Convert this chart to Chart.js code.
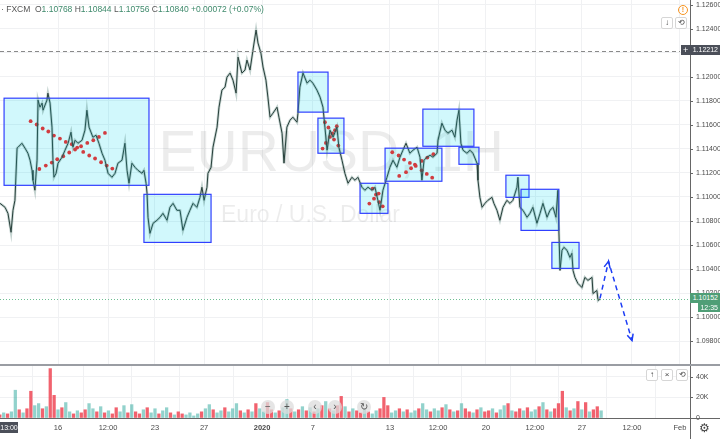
<!DOCTYPE html>
<html>
<head>
<meta charset="utf-8">
<script src="https://cdn.jsdelivr.net/npm/chart.js@4.4.1/dist/chart.umd.min.js"></script>
<style>
  body { margin: 0; background: #fff; font-family: "Liberation Sans", Arial, sans-serif; }
  #wrap { position: relative; width: 720px; height: 439px; overflow: hidden; }
  canvas { position: absolute; left: 0; }
  #price { top: 0; }
  #vol { top: 365px; }
  .ov { position: absolute; white-space: nowrap; }
  .line { position: absolute; }
  .tag { position: absolute; color: #fff; font-size: 7px; line-height: 10px; text-align: right; padding-right: 2px; box-sizing: border-box; }
  .btn { position: absolute; width: 10px; height: 10px; border: 1px solid #d6d6d6; border-radius: 2px; background: #fff;
         font-size: 8px; line-height: 10px; text-align: center; color: #444; }
  .nav { position: absolute; width: 14px; height: 14px; border-radius: 50%; background: rgba(220,220,220,0.75);
         font-size: 10px; line-height: 14px; text-align: center; color: #555; }
  #hdr { left: 1px; top: 4px; font-size: 8.5px; line-height: 10px; color: #555; }
  #hdr .v { color: #3f8a6c; }
</style>
</head>
<body>
<div id="wrap">
  <canvas id="price" width="720" height="365"></canvas>
  <canvas id="vol" width="720" height="74"></canvas>

  <div class="line" style="left:0;top:364px;width:720px;height:2px;background:#9a9da3"></div>
  <div class="line" style="left:690px;top:418px;width:30px;height:1px;background:#666"></div>
  <div class="line" style="left:690px;top:418px;width:1px;height:21px;background:#666"></div>

  <div id="hdr" class="ov">· FXCM&nbsp; O<span class="v">1.10768</span> H<span class="v">1.10844</span> L<span class="v">1.10756</span> C<span class="v">1.10840</span> <span class="v">+0.00072 (+0.07%)</span></div>

  <div class="ov" style="left:678px;top:5px;width:8px;height:8px;border:1px solid #f7931e;border-radius:50%;color:#f7931e;font-size:7px;line-height:8px;text-align:center;font-weight:bold">!</div>
  <div class="btn" style="left:661px;top:17px">↓</div>
  <div class="btn" style="left:675px;top:17px">⟲</div>

  <div class="tag" style="left:681px;top:45px;width:39px;background:#4b4f59"><span style="position:absolute;left:2px;font-size:9px">+</span>1.12212</div>
  <div class="tag" style="left:690px;top:293px;width:30px;background:#4f9e76">1.10152</div>
  <div class="tag" style="left:698px;top:303px;width:22px;height:9px;line-height:9px;background:#4f9e76">12:35</div>

  <div class="btn" style="left:646px;top:369px">↑</div>
  <div class="btn" style="left:661px;top:369px">×</div>
  <div class="btn" style="left:676px;top:369px">⟲</div>

  <div class="nav" style="left:261px;top:400px">−</div>
  <div class="nav" style="left:280px;top:400px">+</div>
  <div class="nav" style="left:308px;top:400px">‹</div>
  <div class="nav" style="left:328px;top:400px">›</div>
  <div class="nav" style="left:357px;top:400px">↻</div>

  <div class="tag" style="left:0;top:422px;width:18px;height:11px;line-height:11px;background:#4b4f59;text-align:center;padding:0">13:00</div>
  <div class="ov" style="left:699px;top:421px;font-size:12px;color:#444">⚙</div>
</div>

<script>
// time axis in trading days, 0 = Dec 16
const tickDays = [0, 2.58, 5.0, 7.53, 10.52, 13.14, 17.11, 19.59, 22.06, 24.59, 27.01, 29.59, 32.06]
const tickLabels = ['16', '12:00', '23', '27', '2020', '7', '13', '12:00', '20', '12:00', '27', '12:00', 'Feb']

const priceDays = [
  -2.99, -2.73, -2.58, -2.42, -2.32, -2.22, -2.11, -2.06, -1.86, -1.70,
  -1.55, -1.44, -1.34, -1.29, -1.19, -1.08, -1.03, -0.93, -0.82, -0.77,
  -0.57, -0.52, -0.41, -0.31, -0.26, -0.21, -0.10, 0, 0.21, 0.36,
  0.52, 0.67, 0.77, 0.88, 1.03, 1.24, 1.39, 1.49, 1.60, 1.80,
  1.96, 2.11, 2.27, 2.42, 2.58, 2.78, 2.94, 3.09, 3.30, 3.45,
  3.56, 3.66, 3.81, 3.97, 4.12, 4.33, 4.43, 4.54, 4.59, 4.64,
  4.74, 4.90, 5.10, 5.26, 5.41, 5.62, 5.77, 5.93, 6.13, 6.29,
  6.44, 6.65, 6.80, 6.96, 7.16, 7.32, 7.42, 7.53, 7.68, 7.73,
  7.89, 7.99, 8.20, 8.30, 8.45, 8.61, 8.71, 8.87, 9.02, 9.18,
  9.28, 9.48, 9.64, 9.74, 9.90, 10.05, 10.21, 10.31, 10.46, 10.57,
  10.72, 10.82, 10.93, 11.08, 11.29, 11.39, 11.55, 11.65, 11.80, 11.96,
  12.11, 12.32, 12.37, 12.47, 12.63, 12.84, 12.99, 13.14, 13.35, 13.51,
  13.66, 13.76, 13.87, 14.02, 14.18, 14.38, 14.48, 14.64, 14.79, 14.95,
  15.15, 15.31, 15.46, 15.67, 15.82, 15.98, 16.19, 16.34, 16.49, 16.60,
  16.75, 16.96, 17.11, 17.27, 17.47, 17.63, 17.78, 17.94, 18.14, 18.30,
  18.51, 18.66, 18.76, 18.87, 19.02, 19.18, 19.33, 19.54, 19.59, 19.79,
  19.95, 20.10, 20.31, 20.46, 20.57, 20.67, 20.77, 20.88, 21.08, 21.24,
  21.39, 21.60, 21.65, 21.75, 21.86, 22.01, 22.16, 22.37, 22.47, 22.63,
  22.78, 22.94, 23.14, 23.30, 23.45, 23.66, 23.71, 23.81, 23.97, 24.18,
  24.33, 24.48, 24.69, 24.85, 25.00, 25.21, 25.36, 25.52, 25.67, 25.77,
  25.82, 25.88, 25.98, 26.08, 26.24, 26.39, 26.49, 26.55, 26.65, 26.80,
  27.01, 27.16, 27.32, 27.53, 27.58, 27.78, 27.84, 27.94
]
const priceCloses = [
  1.10947, 1.10914, 1.10864, 1.10706, 1.10889, 1.10972, 1.11406, 1.11414, 1.11447, 1.11406,
  1.11364, 1.11306, 1.11222, 1.11139, 1.11056, 1.11306, 1.11806, 1.11747, 1.11781, 1.11722,
  1.11806, 1.11864, 1.11781, 1.11581, 1.11306, 1.11164, 1.11197, 1.11281, 1.11331, 1.11389,
  1.11447, 1.11539, 1.11414, 1.11472, 1.11447, 1.11472, 1.11556, 1.11722, 1.11581, 1.11497,
  1.11514, 1.11447, 1.11364, 1.11306, 1.11197, 1.11164, 1.11197, 1.11281, 1.11306, 1.11447,
  1.11222, 1.11114, 1.11281, 1.11247, 1.11222, 1.11197, 1.11222, 1.11114, 1.11031, 1.10831,
  1.10697, 1.10781, 1.10806, 1.10831, 1.10864, 1.10806, 1.10914, 1.10947, 1.10889, 1.10889,
  1.10722, 1.10831, 1.10889, 1.10947, 1.10914, 1.10997, 1.11081, 1.10972, 1.11081, 1.11197,
  1.11247, 1.11414, 1.11581, 1.11747, 1.11889, 1.11914, 1.11997, 1.12031, 1.11972, 1.11864,
  1.12164, 1.12031, 1.12056, 1.12139, 1.12056, 1.12222, 1.12389, 1.12281, 1.12197, 1.12081,
  1.11972, 1.11831, 1.11664, 1.11697, 1.11747, 1.11664, 1.11531, 1.11281, 1.11581, 1.11639,
  1.11664, 1.11622, 1.11697, 1.11914, 1.12031, 1.11947, 1.11972, 1.11947, 1.11889, 1.11831,
  1.11747, 1.11581, 1.11389, 1.11556, 1.11497, 1.11581, 1.11414, 1.11306, 1.11197, 1.11114,
  1.11164, 1.11139, 1.11164, 1.11081, 1.11056, 1.11081, 1.11056, 1.11081, 1.10972, 1.10889,
  1.11056, 1.11164, 1.11247, 1.11306, 1.11247, 1.11331, 1.11389, 1.11447, 1.11364, 1.11389,
  1.11414, 1.11331, 1.11139, 1.11306, 1.11331, 1.11347, 1.11331, 1.11364, 1.11472, 1.11614,
  1.11556, 1.11531, 1.11556, 1.11497, 1.11639, 1.11722, 1.11447, 1.11389, 1.11364, 1.11389,
  1.11364, 1.11281, 1.11139, 1.10997, 1.10914, 1.10947, 1.10972, 1.10997, 1.10947, 1.10889,
  1.10806, 1.10914, 1.10972, 1.10947, 1.10972, 1.11081, 1.11164, 1.10914, 1.10889, 1.10831,
  1.10864, 1.10914, 1.10781, 1.10864, 1.10947, 1.10831, 1.10889, 1.10914, 1.10831, 1.11056,
  1.10722, 1.10389, 1.10556, 1.10581, 1.10556, 1.10497, 1.10531, 1.10389, 1.10331, 1.10281,
  1.10247, 1.10331, 1.10306, 1.10331, 1.10197, 1.10222, 1.10139, 1.10152
]

// rectangles drawn on the chart: [startDay, endDay, topPrice, bottomPrice]
const boxes = [
  [-2.78, 4.69, 1.11822, 1.11097],
  [4.43, 7.89, 1.11022, 1.10622],
  [12.37, 13.92, 1.12039, 1.11706],
  [13.40, 14.74, 1.11656, 1.11364],
  [15.57, 17.01, 1.11114, 1.10864],
  [16.86, 19.79, 1.11406, 1.11131],
  [18.81, 21.44, 1.11731, 1.11422],
  [20.67, 21.70, 1.11414, 1.11272],
  [23.09, 24.28, 1.11181, 1.10997],
  [23.87, 25.82, 1.11064, 1.10722],
  [25.46, 26.86, 1.10622, 1.10406],
]

const dotDays = [
  -1.41, -1.10, -0.79, -0.50, -0.21, 0.10, 0.40, 0.71, 0.99, 1.30, 1.61, 1.91, 2.22, 2.51, 2.80,
  -0.96, -0.63, -0.32, -0.04, 0.27, 0.58, 0.88, 1.19, 1.51, 1.82, 2.11, 2.42,
  13.76, 13.94, 14.37, 14.14, 14.02, 14.28, 13.81, 14.23, 13.64, 14.45,
  16.22, 16.39, 16.53, 16.29, 16.05, 16.56, 16.74,
  17.23, 17.56, 17.84, 18.14, 18.44, 18.75, 19.01, 19.29,
  17.59, 17.94, 18.20, 18.40, 18.75, 19.04, 19.35
]
const dotPrices = [
  1.11631, 1.11603, 1.11570, 1.11545, 1.11511, 1.11486, 1.11458, 1.11439, 1.11411, 1.11375, 1.11345, 1.11320, 1.11289, 1.11261, 1.11236,
  1.11233, 1.11261, 1.11286, 1.11314, 1.11339, 1.11370, 1.11395, 1.11422, 1.11450, 1.11472, 1.11500, 1.11533,
  1.11622, 1.11578, 1.11589, 1.11528, 1.11500, 1.11556, 1.11450, 1.11478, 1.11403, 1.11428,
  1.11070, 1.11020, 1.11028, 1.10986, 1.10945, 1.10958, 1.10922,
  1.11372, 1.11345, 1.11311, 1.11283, 1.11258, 1.11222, 1.11192, 1.11161,
  1.11175, 1.11206, 1.11239, 1.11270, 1.11300, 1.11328, 1.11356
]

const arrowDays = [27.94, 28.38, 29.59]
const arrowPrices = [1.10156, 1.10464, 1.09806]

const crossPrice = 1.12212
const lastPrice = 1.10152
const watermark = ['EURUSD, 1H', 'Euro / U.S. Dollar']

// hourly volume, in thousands, one bar every 0.2 day from day -3
const volStart = -3
const volStep = 0.2
const volumes = [
  3, 5, 4, 6, 27, 8, 5, 9, 26, 12,
  14, 9, 11, 48, 22, 8, 10, 15, 6, 4,
  7, 5, 8, 14, 9, 6, 11, 5, 7, 4,
  10, 6, 12, 5, 13, 6, 4, 8, 10, 5,
  9, 4, 7, 10, 5, 3, 6, 4, 3, 5,
  2, 4, 6, 9, 13, 8, 5, 7, 10, 6,
  9, 14, 7, 5, 8, 6, 14, 9, 6, 15,
  8, 5, 7, 10, 18, 9, 6, 8, 11, 7,
  10, 6, 9, 12, 16, 9, 7, 12, 21, 11,
  6, 9, 7, 5, 8, 6, 4, 7, 9, 20,
  12, 5, 7, 9, 6, 8, 5, 7, 9, 14,
  8, 6, 9, 7, 10, 13, 8, 6, 7, 14,
  9, 6, 5, 8, 10, 6, 7, 9, 5, 8,
  12, 14, 7, 6, 9, 7, 10, 6, 8, 11,
  15, 8, 6, 9, 14, 26, 10, 7, 9, 16,
  8, 15, 6, 8, 11, 7
]
const volDir = 'duduududdu' + 'ududduduud' + 'udduududud' + 'duududdudu' + 'uduududduu' +
  'uuduuduudu' + 'uudududuud' + 'duduududud' + 'ududududdu' + 'dudduduudd' +
  'duududuudu' + 'uduudududu' + 'ddududdudu' + 'ududduduud' + 'ududddudud' + 'ududdu'

const xMin = -2.99
const xMax = 32.58

Chart.defaults.font.family = '"Liberation Sans", Arial, sans-serif'
Chart.defaults.color = '#4a4a4a'

function fixedTicks(scale) {
    scale.ticks = tickDays.map((v) => ({ value: v }))
}

function xy(xs, ys) {
    return xs.map((x, i) => ({ x: x, y: ys[i] }))
}

function arrowHead(ctx, from, to) {
    const ang = Math.atan2(to.y - from.y, to.x - from.x)
    const len = 7
    ctx.beginPath()
    ctx.moveTo(to.x - len * Math.cos(ang - 0.45), to.y - len * Math.sin(ang - 0.45))
    ctx.lineTo(to.x, to.y)
    ctx.lineTo(to.x - len * Math.cos(ang + 0.45), to.y - len * Math.sin(ang + 0.45))
    ctx.stroke()
}

// short marks next to the right axis (the axis' own tick marks are hidden)
const axisMarks = {
    id: 'axisMarks',
    afterDraw(chart) {
        const ctx = chart.ctx
        const y = chart.scales.y
        ctx.save()
        ctx.strokeStyle = '#666'
        ctx.lineWidth = 1
        y.ticks.forEach((t) => {
            const py = Math.round(y.getPixelForValue(t.value)) + 0.5
            ctx.beginPath()
            ctx.moveTo(y.left, py)
            ctx.lineTo(y.left + 3, py)
            ctx.stroke()
        })
        ctx.restore()
    }
}

const drawings = {
    id: 'drawings',
    beforeDatasetsDraw(chart) {
        const ctx = chart.ctx
        const a = chart.chartArea
        ctx.save()
        ctx.fillStyle = 'rgba(0,0,0,0.075)'
        ctx.textAlign = 'center'
        ctx.textBaseline = 'middle'
        ctx.font = '57px "Liberation Sans", Arial, sans-serif'
        ctx.fillText(watermark[0], a.left + a.width * 0.48, a.top + a.height * 0.425)
        ctx.font = '23px "Liberation Sans", Arial, sans-serif'
        ctx.fillText(watermark[1], a.left + a.width * 0.45, a.top + a.height * 0.59)
        ctx.restore()
    },
    afterDatasetDraw(chart, args) {
        if (args.index !== 1) return
        const ctx = chart.ctx
        const x = chart.scales.x
        const y = chart.scales.y
        ctx.save()
        boxes.forEach((b) => {
            const x0 = x.getPixelForValue(b[0])
            const x1 = x.getPixelForValue(b[1])
            const y0 = y.getPixelForValue(b[2])
            const y1 = y.getPixelForValue(b[3])
            ctx.fillStyle = 'rgba(0, 215, 240, 0.18)'
            ctx.fillRect(x0, y0, x1 - x0, y1 - y0)
            ctx.strokeStyle = '#3040ff'
            ctx.lineWidth = 1.2
            ctx.strokeRect(x0, y0, x1 - x0, y1 - y0)
        })
        ctx.restore()
    },
    afterDatasetsDraw(chart) {
        const ctx = chart.ctx
        const a = chart.chartArea
        const x = chart.scales.x
        const y = chart.scales.y
        ctx.save()
        // crosshair level
        ctx.strokeStyle = '#8a8a8a'
        ctx.lineWidth = 1
        ctx.setLineDash([4, 3])
        let py = Math.round(y.getPixelForValue(crossPrice)) + 0.5
        ctx.beginPath()
        ctx.moveTo(a.left, py)
        ctx.lineTo(a.right - 10, py)
        ctx.stroke()
        // last price
        ctx.strokeStyle = '#6fbf93'
        ctx.setLineDash([1, 2])
        py = Math.round(y.getPixelForValue(lastPrice)) + 0.5
        ctx.beginPath()
        ctx.moveTo(a.left, py)
        ctx.lineTo(a.right, py)
        ctx.stroke()
        // arrow heads on the projection
        ctx.setLineDash([])
        ctx.strokeStyle = '#1d3df5'
        ctx.lineWidth = 1.5
        const pts = arrowDays.map((d, i) => ({ x: x.getPixelForValue(d), y: y.getPixelForValue(arrowPrices[i]) }))
        arrowHead(ctx, pts[0], pts[1])
        arrowHead(ctx, pts[1], pts[2])
        ctx.restore()
    }
}

// tiny lineHeight and zero padding keep the edge labels from shrinking the plot area
const axisFont = { size: 7, lineHeight: 0.05 }

function rightAxis(extra) {
    return Object.assign({
        position: 'right',
        afterFit: (s) => { s.width = 30; s.paddingTop = 0; s.paddingBottom = 0 },
        grid: { color: '#f0f1f3', tickLength: 6, tickColor: 'rgba(0,0,0,0)' },
        border: { display: true, color: '#666', width: 1 },
    }, extra)
}

function priceChart() {
    'use strict'
    return new Chart(document.getElementById('price'), {
        type: 'line',
        data: {
            datasets: [
                {
                    data: xy(priceDays, priceCloses),
                    borderColor: 'rgba(60, 110, 100, 0.3)',
                    borderWidth: 2.6,
                    pointRadius: 0,
                    tension: 0,
                },
                {
                    data: xy(priceDays, priceCloses),
                    borderColor: '#1f2b28',
                    borderWidth: 1,
                    pointRadius: 0,
                    tension: 0,
                },
                {
                    type: 'scatter',
                    data: xy(dotDays, dotPrices),
                    pointRadius: 1.9,
                    pointBackgroundColor: '#ff1a1a',
                    pointBorderWidth: 0,
                },
                {
                    data: xy(arrowDays, arrowPrices),
                    borderColor: '#1d3df5',
                    borderWidth: 1.5,
                    borderDash: [5, 4],
                    pointRadius: 0,
                    tension: 0,
                    clip: false,
                },
            ]
        },
        options: {
            responsive: false,
            animation: false,
            events: [],
            layout: { padding: 0, autoPadding: false },
            plugins: { legend: { display: false }, tooltip: { enabled: false } },
            scales: {
                x: {
                    type: 'linear',
                    min: xMin,
                    max: xMax,
                    afterBuildTicks: fixedTicks,
                    afterFit: (s) => { s.height = 0; s.paddingLeft = 0; s.paddingRight = 0 },
                    ticks: { display: false },
                    grid: { color: '#f0f1f3', drawTicks: false },
                    border: { display: false },
                },
                y: rightAxis({
                    min: 1.09602,
                    max: 1.12639,
                    ticks: {
                        stepSize: 0.002,
                        includeBounds: false,
                        padding: 0,
                        font: axisFont,
                        color: '#4a4a4a',
                        callback: (v) => v.toFixed(5),
                    },
                }),
            }
        },
        plugins: [drawings, axisMarks]
    })
}

function volumeChart() {
    'use strict'
    const data = volumes.map((v, i) => ({ x: volStart + i * volStep, y: v }))
    const colors = volumes.map((v, i) => volDir[i] === 'u' ? 'rgba(38, 166, 154, 0.5)' : 'rgba(239, 70, 85, 0.85)')
    return new Chart(document.getElementById('vol'), {
        type: 'bar',
        data: {
            datasets: [{
                data: data,
                backgroundColor: colors,
                barThickness: 2.6,
            }]
        },
        options: {
            responsive: false,
            animation: false,
            events: [],
            layout: { padding: 0, autoPadding: false },
            plugins: { legend: { display: false }, tooltip: { enabled: false } },
            scales: {
                x: {
                    type: 'linear',
                    min: xMin,
                    max: xMax,
                    offset: false,
                    afterBuildTicks: fixedTicks,
                    afterFit: (s) => { s.height = 21; s.paddingLeft = 0; s.paddingRight = 0 },
                    ticks: {
                        autoSkip: false,
                        maxRotation: 0,
                        padding: 5,
                        color: '#4a4a4a',
                        font: (c) => ({ size: 7.5, weight: c.tick && c.tick.label === '2020' ? 'bold' : 'normal' }),
                        callback: (v, i) => tickLabels[i],
                    },
                    grid: { color: '#f0f1f3', drawTicks: false },
                    border: { display: true, color: '#666', width: 1 },
                },
                y: rightAxis({
                    min: 0,
                    max: 51.5,
                    ticks: {
                        stepSize: 20,
                        includeBounds: false,
                        padding: 0,
                        font: axisFont,
                        color: '#4a4a4a',
                        callback: (v) => v === 0 ? '0' : v + 'K',
                    },
                }),
            }
        },
        plugins: [axisMarks]
    })
}

priceChart()
volumeChart()
</script>
</body>
</html>
